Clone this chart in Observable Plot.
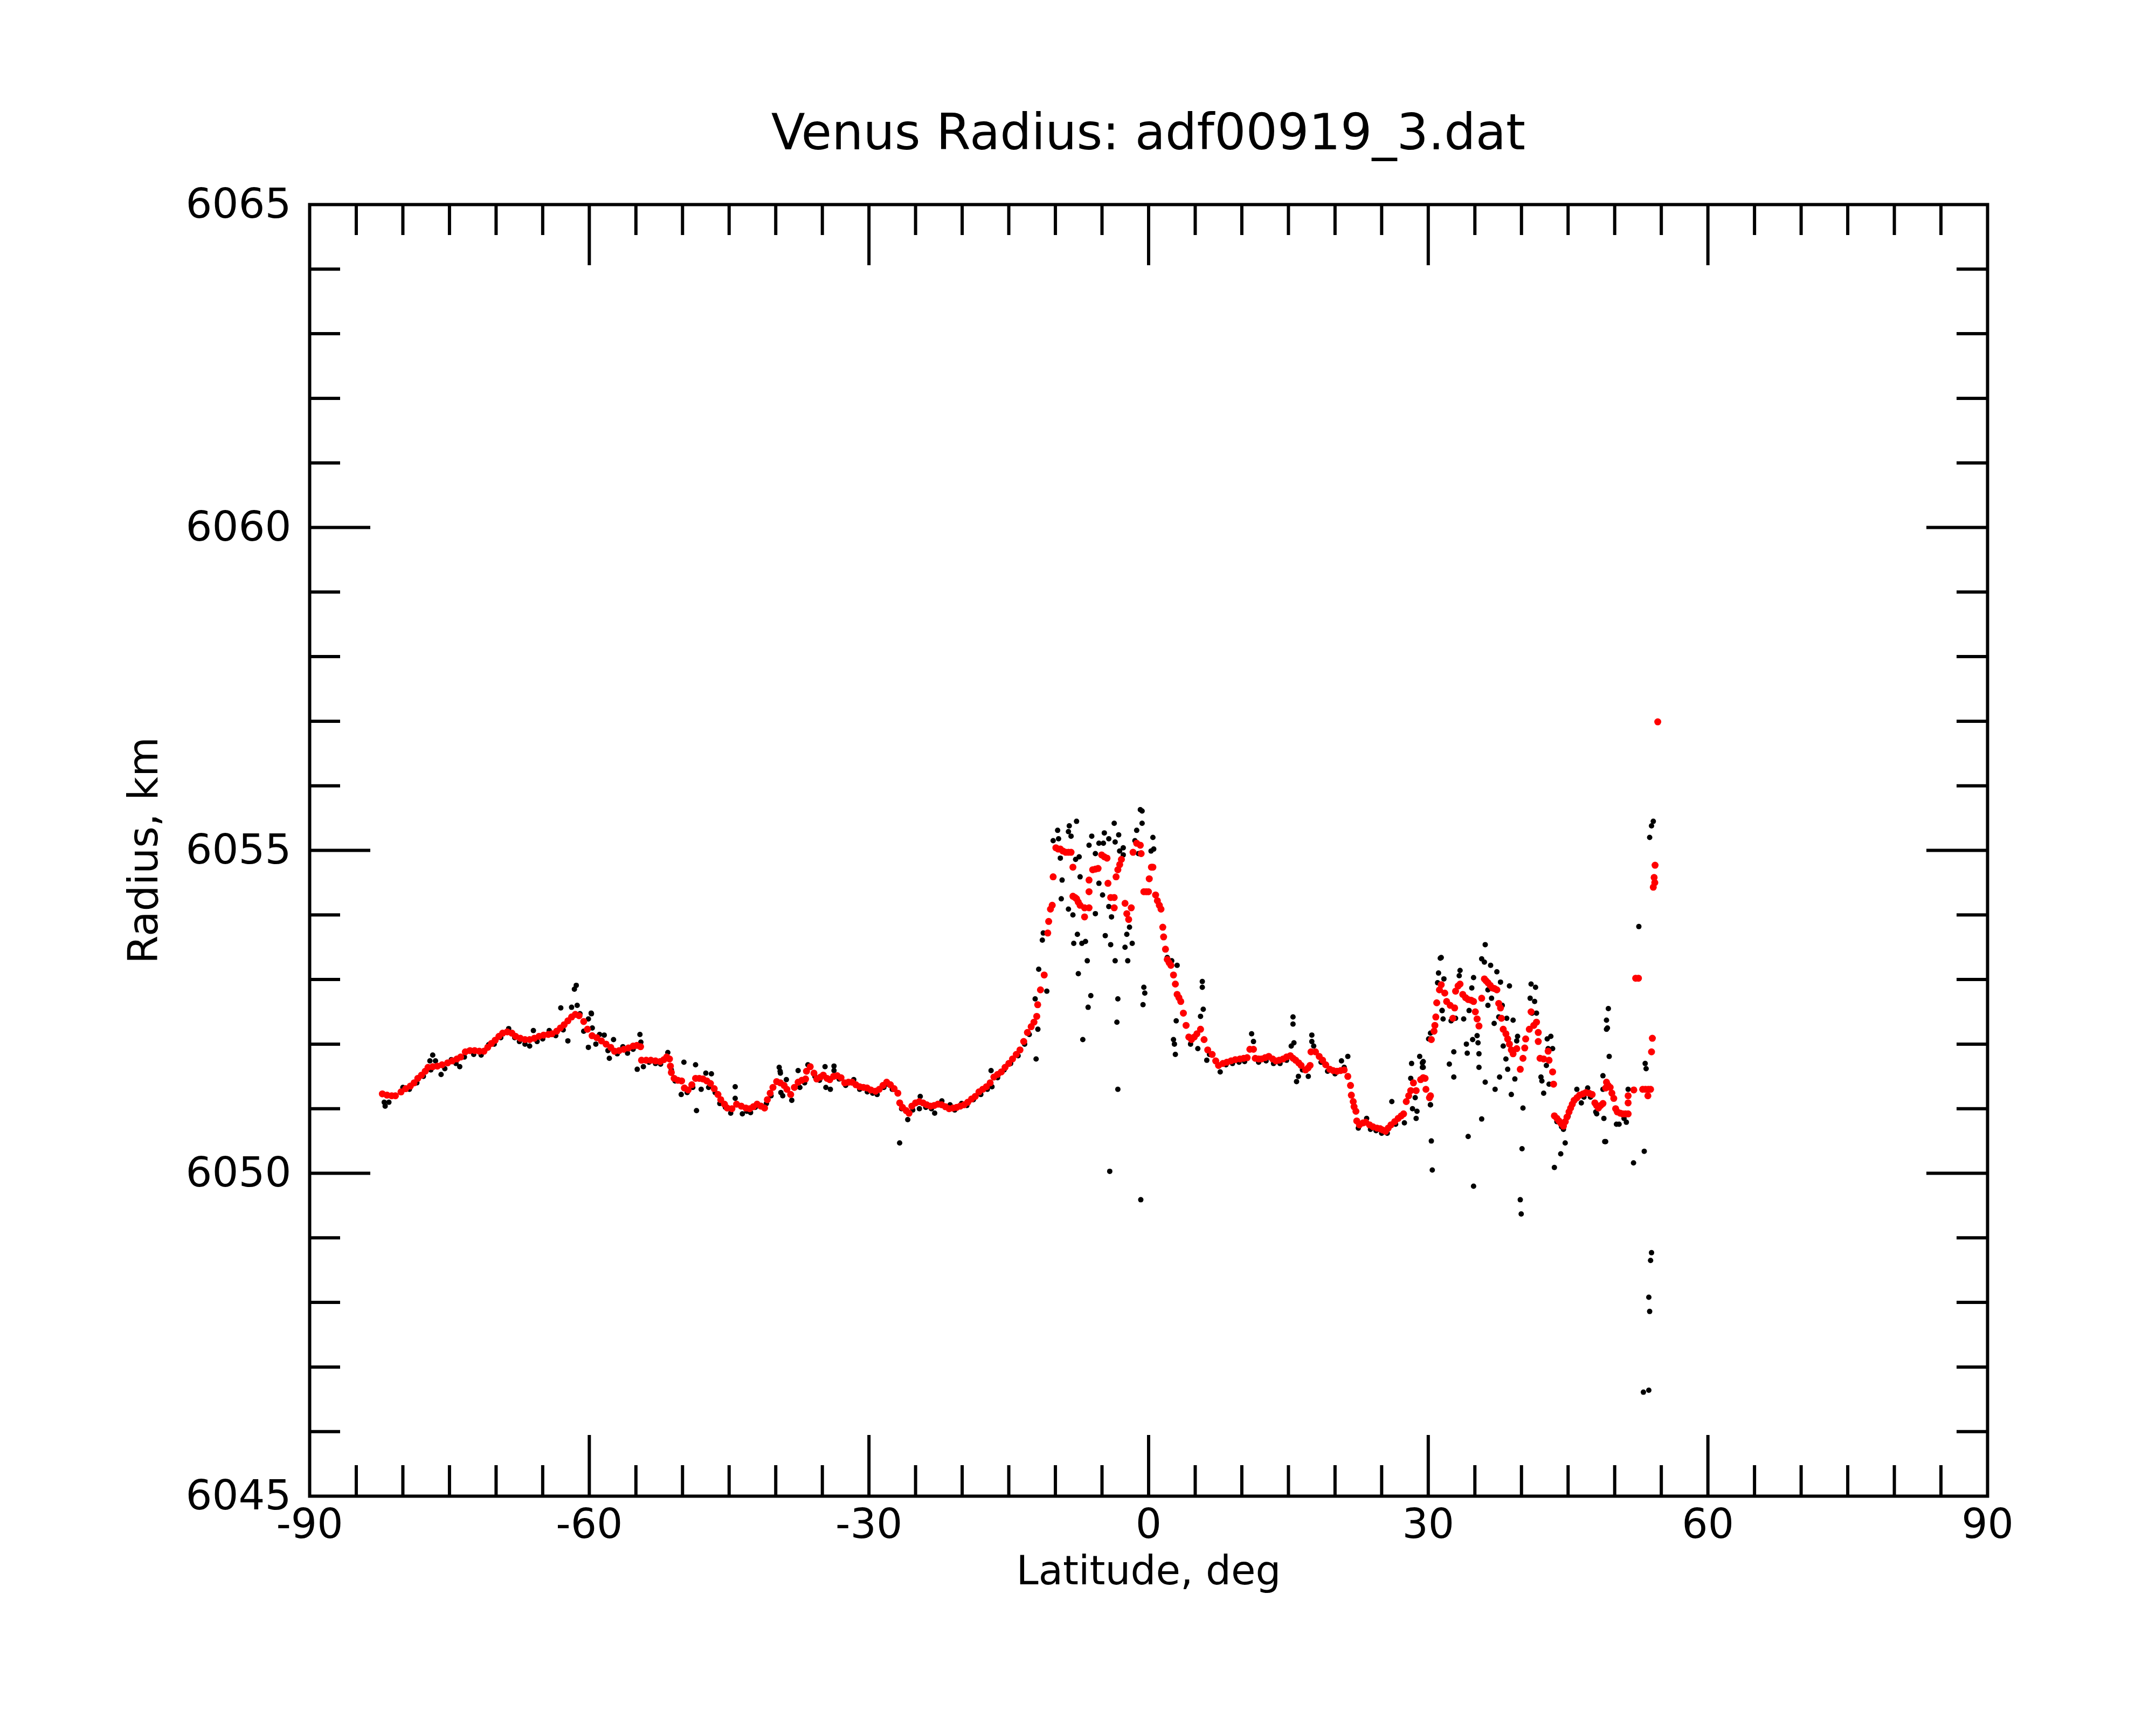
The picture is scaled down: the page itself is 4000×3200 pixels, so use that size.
<!DOCTYPE html>
<html>
<head>
<meta charset="utf-8">
<script src="https://cdn.jsdelivr.net/npm/d3@7"></script>
<script src="https://cdn.jsdelivr.net/npm/@observablehq/plot@0.6"></script>
<style>
  html, body { margin: 0; padding: 0; background: #ffffff; }
  #wrap { width: 4000px; height: 3200px; background: #ffffff; font-family: "DejaVu Sans", sans-serif; }
  #title { box-sizing: border-box; height: 300px; padding-top: 200px; margin-left: 574px; width: 3113px;
           text-align: center; font-size: 92px; line-height: 92px; color: #000; white-space: nowrap; }
</style>
</head>
<body>
<div id="wrap">
  <div id="title">Venus Radius: adf00919_3.dat</div>
  <div id="chart"></div>
</div>
<script>
// ---- axis / tick definitions ----
const xDomain = [-90, 90];
const yDomain = [6045, 6065];
const xTickLabels = [-90, -60, -30, 0, 30, 60, 90];
const xMajorTicks = [-60, -30, 0, 30, 60];
const xMinorTicks = [-85, -80, -75, -70, -65, -55, -50, -45, -40, -35, -25, -20, -15, -10, -5,
                     5, 10, 15, 20, 25, 35, 40, 45, 50, 55, 65, 70, 75, 80, 85];
const yTickLabels = [6045, 6050, 6055, 6060, 6065];
const yMajorTicks = [6050, 6055, 6060];
const yMinorTicks = [6046, 6047, 6048, 6049, 6051, 6052, 6053, 6054, 6056, 6057, 6058, 6059,
                     6061, 6062, 6063, 6064];
const titleText = "Venus Radius: adf00919_3.dat";
const xLabel = "Latitude, deg";
const yLabel = "Radius, km";

// ---- red (smoothed) points: [latitude, radius] ----
const redSouth = [
  [-82.2,6051.23],[-81.7,6051.21],[-81.2,6051.20],[-80.8,6051.20],[-80.2,6051.26],[-79.7,6051.31],
  [-79.2,6051.35],[-78.8,6051.40],[-78.4,6051.47],[-78.0,6051.52],[-77.6,6051.58],[-77.3,6051.64],
  [-76.8,6051.65],[-76.3,6051.66],[-75.8,6051.68],[-75.2,6051.71],[-74.7,6051.74],[-74.2,6051.77],
  [-73.8,6051.80],[-73.3,6051.88],[-72.8,6051.90],[-72.3,6051.90],[-71.8,6051.89],[-71.3,6051.89],
  [-70.9,6051.95],[-70.5,6052.01],[-70.1,6052.06],[-69.7,6052.12],[-69.3,6052.17],[-68.8,6052.19],
  [-68.3,6052.17],[-67.9,6052.12],[-67.4,6052.09],[-66.9,6052.07],[-66.4,6052.07],[-65.9,6052.09],
  [-65.4,6052.12],[-64.9,6052.14],[-64.4,6052.15],[-64.0,6052.16],[-63.5,6052.20],[-63.1,6052.25],
  [-62.7,6052.30],[-62.3,6052.36],[-61.9,6052.42],[-61.5,6052.46],[-61.1,6052.44],[-60.6,6052.35],
  [-60.2,6052.23],[-59.7,6052.13],[-59.2,6052.10],[-58.7,6052.05],[-58.2,6052.00],[-57.7,6051.95],
  [-57.3,6051.89],[-56.8,6051.90],[-56.3,6051.92],[-55.8,6051.94],[-55.3,6051.97],[-54.9,6051.98],
  [-54.5,6051.96]
];
const redMid = [
  [-54.4,6051.75],[-53.9,6051.75],[-53.4,6051.75],[-52.9,6051.74],[-52.4,6051.73],[-52.0,6051.76],
  [-51.7,6051.80],[-51.4,6051.77],[-51.3,6051.66],[-51.2,6051.56],[-50.9,6051.47],[-50.5,6051.44],
  [-50.1,6051.43],[-49.8,6051.32],[-49.4,6051.29],[-49.0,6051.37],[-48.6,6051.47],[-48.2,6051.47],
  [-47.8,6051.46],[-47.4,6051.43],[-47.0,6051.39],[-46.6,6051.31],[-46.2,6051.22],[-45.9,6051.14],
  [-45.5,6051.07],[-45.2,6051.01],[-44.7,6051.00],[-44.2,6051.07],[-43.7,6051.04],[-43.2,6051.01],
  [-42.8,6051.00],[-42.4,6051.03],[-42.0,6051.07],[-41.6,6051.04],[-41.2,6051.01],[-40.9,6051.14],
  [-40.6,6051.24],[-40.3,6051.33],[-39.9,6051.42],[-39.5,6051.40],[-39.1,6051.36],[-38.8,6051.30],
  [-38.4,6051.22],[-38.0,6051.33],[-37.6,6051.41],[-37.2,6051.44],[-36.8,6051.46],[-36.7,6051.58],
  [-36.3,6051.65],[-35.9,6051.55],[-35.6,6051.46],[-35.2,6051.49],[-34.9,6051.52],[-34.5,6051.47],
  [-34.2,6051.45],[-33.8,6051.50],[-33.4,6051.51],[-33.0,6051.48],[-32.6,6051.40],[-32.2,6051.41],
  [-31.8,6051.41],[-31.4,6051.37],[-31.0,6051.34],[-30.6,6051.33],[-30.2,6051.32],[-29.8,6051.29],
  [-29.3,6051.27],[-28.9,6051.30],[-28.5,6051.36],[-28.1,6051.41],[-27.7,6051.37],[-27.3,6051.31],
  [-26.9,6051.24]
];
const redRise = [
  [-26.7,6051.09],[-26.4,6051.02],[-26.0,6050.97],[-25.7,6050.93],[-25.4,6051.04],[-25.0,6051.09],
  [-24.6,6051.11],[-24.2,6051.09],[-23.8,6051.06],[-23.4,6051.04],[-23.0,6051.05],[-22.6,6051.07],
  [-22.2,6051.06],[-21.8,6051.03],[-21.4,6051.00],[-21.0,6051.01],[-20.6,6051.02],[-20.2,6051.04],
  [-19.8,6051.06],[-19.4,6051.10],[-19.0,6051.15],[-18.6,6051.19],[-18.2,6051.26],[-17.8,6051.30],
  [-17.4,6051.34],[-17.0,6051.40],[-16.6,6051.49],[-16.2,6051.53],[-15.8,6051.57],[-15.4,6051.64],
  [-15.0,6051.70],[-14.6,6051.77],[-14.2,6051.84],[-13.8,6051.91],[-13.4,6052.04],[-13.0,6052.18],
  [-12.6,6052.27],[-12.3,6052.34],[-12.0,6052.43],[-11.9,6052.61],[-11.6,6052.84],[-11.2,6053.07]
];
const redPeak = [
  [-10.82,6053.72],[-10.72,6053.90],[-10.53,6054.09],[-10.34,6054.15],[-10.24,6054.59],[-9.95,6055.04],
  [-9.7,6055.02],[-9.47,6055.02],[-9.2,6054.99],[-8.89,6054.97],[-8.6,6054.97],[-8.32,6054.97],
  [-8.12,6054.74],[-8.12,6054.29],[-7.9,6054.27],[-7.73,6054.25],[-7.55,6054.20],[-7.35,6054.15],
  [-6.87,6054.11],[-6.87,6053.97],[-6.39,6054.11],[-6.39,6054.36],[-6.39,6054.54],[-6.0,6054.70],
  [-5.7,6054.71],[-5.42,6054.72],[-5.04,6054.93],[-4.75,6054.90],[-4.46,6054.88],[-4.36,6054.49],
  [-4.07,6054.27],[-3.69,6054.27],[-3.69,6054.11],[-3.49,6054.59],[-3.3,6054.70],[-3.1,6054.78],
  [-2.92,6054.86],[-2.53,6054.18],[-2.34,6054.02],[-2.14,6053.93],[-1.86,6054.11],[-1.67,6054.97],
  [-1.28,6055.11],[-0.89,6055.08],[-0.8,6054.95],[-0.51,6054.36],[-0.25,6054.36],[-0.02,6054.36],
  [0.07,6054.56],[0.3,6054.74],[0.46,6054.74],[0.75,6054.31],[0.94,6054.22],[1.15,6054.15],
  [1.33,6054.09],[1.52,6053.81],[1.61,6053.66],[1.81,6053.47],[2.0,6053.31],[2.2,6053.26],
  [2.39,6053.22],[2.67,6053.07],[2.87,6052.93],[3.06,6052.77],[3.25,6052.72],[3.45,6052.66],
  [3.73,6052.48],[4.02,6052.29],[4.31,6052.11],[4.6,6052.07],[4.9,6052.11],[5.18,6052.16],
  [5.57,6052.23],[5.95,6052.07],[6.34,6051.91],[6.82,6051.84]
];
const redNorth = [
  [7.2,6051.74],[7.5,6051.67],[7.97,6051.70],[8.4,6051.72],[8.84,6051.74],[9.3,6051.76],
  [9.8,6051.77],[10.2,6051.78],[10.57,6051.79],[10.86,6051.92],[11.25,6051.92],[11.44,6051.78],
  [11.8,6051.77],[12.11,6051.77],[12.5,6051.79],[12.89,6051.81],[13.3,6051.77],[13.66,6051.74],
  [14.0,6051.75],[14.43,6051.77],[14.8,6051.80],[15.2,6051.82],[15.5,6051.78],[15.78,6051.75],
  [16.1,6051.71],[16.36,6051.67],[16.84,6051.60],[17.1,6051.63],[17.32,6051.67],[17.42,6051.88],
  [17.9,6051.88],[18.3,6051.81],[18.67,6051.75],[19.0,6051.68],[19.44,6051.61],[19.8,6051.59],
  [20.21,6051.58],[20.6,6051.59],[20.98,6051.60],[21.37,6051.50],[21.66,6051.36],[21.75,6051.21],
  [21.95,6051.11],[22.04,6051.03],[22.24,6050.96],[22.33,6050.81],[22.62,6050.75],[23.0,6050.78],
  [23.3,6050.79],[23.7,6050.75],[24.07,6050.72],[24.5,6050.70],[24.84,6050.69],[25.1,6050.67],
  [25.42,6050.65],[25.7,6050.70],[26.0,6050.75],[26.4,6050.80],[26.77,6050.85],[27.1,6050.89],
  [27.35,6050.92],[27.64,6051.11],[27.9,6051.20],[28.12,6051.28],[28.41,6051.40],[28.7,6051.28],
  [29.18,6051.45],[29.46,6051.48],[29.66,6051.47],[29.75,6051.30],[30.13,6051.17],[30.24,6051.20]
];
const redPeak2 = [
  [30.33,6052.07],[30.62,6052.20],[30.71,6052.29],[30.81,6052.42],[30.91,6052.64],[31.2,6052.84],
  [31.39,6052.92],[31.77,6052.79],[31.97,6052.66],[32.35,6052.60],[32.64,6052.40],[32.83,6052.56],
  [32.93,6052.82],[33.2,6052.90],[33.41,6052.93],[33.7,6052.77],[34.0,6052.72],[34.28,6052.69],
  [34.6,6052.68],[34.86,6052.66],[35.05,6052.50],[35.24,6052.39],[35.44,6052.28],[35.73,6052.71],
  [36.02,6053.01],[36.2,6052.98],[36.4,6052.95],[36.65,6052.91],[36.88,6052.87],[37.1,6052.86],
  [37.36,6052.84],[37.56,6052.63],[37.75,6052.56],[37.85,6052.40],[38.04,6052.23],[38.33,6052.16],
  [38.52,6052.08],[38.71,6052.00],[38.91,6051.91],[39.1,6051.85],[39.49,6051.93],[39.87,6051.61],
  [40.16,6051.78],[40.35,6051.94],[40.45,6052.08],[40.84,6052.23],[41.03,6052.50],[41.32,6052.29],
  [41.61,6052.34],[41.8,6052.18],[41.8,6052.04],[41.99,6051.78],[42.38,6051.77],[42.86,6051.89],
  [42.96,6051.75],[43.34,6051.57],[43.44,6051.38]
];
const redEnd = [
  [43.53,6050.89],[43.8,6050.85],[44.02,6050.81],[44.25,6050.77],[44.5,6050.73],[44.7,6050.80],
  [44.88,6050.87],[45.1,6050.95],[45.27,6051.01],[45.45,6051.07],[45.65,6051.13],[45.95,6051.17],
  [46.23,6051.21],[46.6,6051.23],[46.91,6051.25],[47.25,6051.24],[47.58,6051.22],[47.87,6051.09],
  [48.05,6051.05],[48.26,6051.01],[48.5,6051.05],[48.74,6051.08],[49.03,6051.32],[49.12,6051.41],
  [49.3,6051.36],[49.51,6051.33],[49.7,6051.24],[49.9,6051.16],[50.1,6051.00],[50.28,6050.95],
  [50.6,6050.93],[50.86,6050.92],[51.15,6050.92],[51.44,6050.92],[51.44,6051.09],[51.44,6051.20],
  [52.05,6051.29],[52.25,6053.02],[52.55,6053.02],[53.0,6051.30],[53.3,6051.30],[53.56,6051.20],
  [53.6,6051.30],[53.85,6051.30],[53.95,6051.88],[54.04,6052.09],[54.14,6054.43],[54.23,6054.58],
  [54.3,6054.50],[54.33,6054.77],[54.62,6056.99]
];

// ---- black (raw) points: [latitude, radius] ----
const blackSouth = [
  [-82.0,6051.10],[-81.5,6051.10],[-81.9,6051.04],[-80.0,6051.33],[-79.3,6051.30],[-78.5,6051.40],
  [-77.8,6051.50],[-77.0,6051.60],[-76.8,6051.83],[-77.1,6051.74],[-76.5,6051.74],[-75.9,6051.53],
  [-75.5,6051.62],[-74.8,6051.76],[-74.3,6051.70],[-73.9,6051.65],[-73.4,6051.80],[-72.9,6051.90],
  [-72.4,6051.84],[-71.6,6051.83],[-70.8,6051.99],[-70.2,6052.00],[-69.5,6052.10],[-68.65,6052.24],
  [-68.0,6052.10],[-67.5,6052.04],[-66.9,6052.00],[-66.4,6051.97],[-66.0,6052.21],[-65.6,6052.04],
  [-65.0,6052.08],[-64.3,6052.21],[-63.6,6052.13],[-63.06,6052.56],[-62.8,6052.22],[-62.3,6052.05],
  [-61.9,6052.57],[-61.3,6052.60],[-61.6,6052.85],[-61.4,6052.91],[-61.0,6052.47],[-60.6,6052.20],
  [-60.1,6052.39],[-59.8,6052.48],[-60.1,6051.95],[-59.77,6052.47],[-59.68,6052.25],[-59.3,6052.00],
  [-58.9,6052.15],[-58.4,6052.14],[-58.0,6051.90],[-57.85,6051.78],[-57.4,6052.07],[-57.0,6051.85],
  [-56.4,6051.96],[-55.9,6051.86],[-55.3,6051.92],[-54.57,6052.15],[-54.47,6052.03],[-54.86,6051.61]
];
const blackMid = [
  [-54.2,6051.65],[-53.6,6051.72],[-52.9,6051.70],[-52.35,6051.69],[-51.58,6051.87],[-51.2,6051.60],
  [-50.8,6051.43],[-50.14,6051.22],[-49.85,6051.72],[-49.5,6051.25],[-48.9,6051.33],[-48.6,6051.68],
  [-48.5,6050.97],[-48.0,6051.30],[-47.5,6051.55],[-46.9,6051.54],[-47.2,6051.33],[-46.5,6051.25],
  [-46.0,6051.08],[-45.4,6051.02],[-44.83,6050.93],[-44.35,6051.34],[-44.35,6051.16],[-43.58,6050.92],
  [-43.1,6050.96],[-42.7,6050.94],[-42.2,6051.02],[-41.56,6051.05],[-41.0,6051.08],[-40.5,6051.20],
  [-39.63,6051.64],[-39.5,6051.55],[-39.45,6051.25],[-39.53,6051.58],[-38.86,6051.45],[-39.25,6051.20],
  [-38.28,6051.13],[-37.6,6051.59],[-37.41,6051.33],[-36.9,6051.40],[-36.55,6051.68],[-35.8,6051.50],
  [-35.3,6051.44],[-34.71,6051.65],[-34.62,6051.33],[-34.14,6051.30],[-33.75,6051.66],[-33.75,6051.59],
  [-33.2,6051.46],[-32.5,6051.36],[-31.63,6051.45],[-31.0,6051.30],[-30.18,6051.26],[-29.6,6051.24],
  [-29.12,6051.22],[-28.4,6051.33],[-28.0,6051.38],[-27.5,6051.30]
];
const blackRise = [
  [-26.71,6050.47],[-26.5,6051.00],[-25.84,6050.83],[-25.3,6050.98],[-24.5,6051.19],[-24.59,6051.00],
  [-23.9,6051.02],[-23.3,6051.00],[-22.95,6050.93],[-22.18,6051.12],[-21.3,6051.06],[-20.8,6050.98],
  [-20.06,6051.08],[-19.5,6051.05],[-18.8,6051.14],[-18.0,6051.22],[-17.3,6051.30],[-16.9,6051.59],
  [-16.8,6051.34],[-16.2,6051.48],[-15.5,6051.60],[-14.8,6051.70],[-14.0,6051.82],[-13.3,6052.00],
  [-12.8,6052.15],[-12.07,6051.77],[-11.88,6052.23],[-12.17,6052.70],[-11.79,6053.16],[-10.92,6052.82],
  [-11.4,6053.61],[-11.3,6053.72]
];
const blackPeak = [
  [-9.76,6055.31],[-10.24,6055.15],[-9.66,6055.18],[-9.47,6054.88],[-9.28,6054.54],[-9.37,6054.25],
  [-8.6,6055.29],[-8.51,6055.38],[-8.32,6055.22],[-7.73,6055.45],[-8.6,6054.09],[-8.12,6054.00],
  [-7.83,6054.86],[-7.45,6054.90],[-7.35,6054.59],[-7.64,6053.70],[-8.03,6053.56],[-7.16,6053.56],
  [-6.77,6053.59],[-7.54,6053.09],[-6.58,6053.29],[-6.2,6052.75],[-6.49,6052.57],[-7.06,6052.07],
  [-6.39,6055.08],[-6.1,6055.22],[-5.71,6054.95],[-5.33,6055.11],[-4.75,6055.27],[-4.85,6055.11],
  [-4.27,6055.18],[-3.69,6055.42],[-3.59,6055.13],[-3.11,6054.99],[-3.21,6055.24],[-2.72,6055.04],
  [-5.33,6054.49],[-4.94,6054.31],[-5.71,6054.02],[-4.65,6053.68],[-4.07,6053.54],[-3.98,6053.97],
  [-4.27,6054.13],[-3.59,6053.29],[-3.3,6052.70],[-3.4,6052.34],[-4.17,6050.03],[-3.3,6051.30],
  [-2.34,6053.70],[-2.53,6053.50],[-1.76,6053.56],[-2.24,6053.29],[-2.05,6053.81],[-2.72,6054.93],
  [-1.47,6055.15],[-1.28,6055.31],[-0.89,6055.63],[-0.7,6055.61],[-0.7,6055.42],[-1.09,6054.95],
  [-0.51,6052.88],[-0.41,6052.79],[-0.6,6052.61],[-0.84,6049.59],[0.46,6055.20],[0.55,6055.02],
  [0.26,6054.99],[2.48,6053.29],[3.06,6053.22],[2.0,6053.34],[2.96,6052.36],[2.67,6052.07],
  [2.77,6052.00],[2.87,6051.84],[4.5,6052.00],[5.28,6051.93],[5.57,6052.43],[5.76,6052.97],
  [5.76,6052.88],[5.86,6052.54],[6.24,6051.75],[6.53,6051.84]
];
const blackNorth = [
  [7.68,6051.57],[8.3,6051.68],[9.0,6051.70],[9.7,6051.72],[10.3,6051.73],[11.05,6052.16],
  [11.25,6052.04],[11.8,6051.72],[12.6,6051.74],[13.4,6051.70],[14.1,6051.70],[14.8,6051.75],
  [15.49,6052.42],[15.49,6052.31],[15.59,6052.02],[15.3,6051.97],[16.07,6051.50],[15.87,6051.42],
  [16.5,6051.60],[17.13,6051.50],[17.51,6052.14],[17.51,6052.04],[17.71,6051.97],[18.5,6051.72],
  [19.2,6051.58],[20.0,6051.54],[20.69,6051.74],[21.37,6051.81],[20.98,6051.64],[22.5,6050.70],
  [23.39,6050.85],[23.8,6050.68],[24.4,6050.66],[25.0,6050.62],[25.6,6050.62],[26.09,6051.11],
  [26.5,6050.76],[27.44,6050.78],[28.12,6051.47],[28.21,6051.70],[29.08,6051.81],[29.37,6051.71],
  [29.37,6051.64],[28.31,6051.00],[28.79,6050.96],[28.7,6050.85],[28.6,6051.17],[30.24,6051.06],
  [30.33,6050.50],[30.43,6050.05],[30.24,6052.17],[31.39,6053.34],[31.1,6053.10],[31.49,6052.52],
  [31.59,6052.39]
];
const blackPeak2 = [
  [29.46,6051.73],[29.46,6051.64],[30.23,6051.06],[30.04,6052.08],[31.29,6053.33],[31.68,6053.01],
  [31.0,6052.95],[31.48,6052.52],[32.26,6051.69],[32.74,6051.88],[32.74,6051.49],[32.45,6052.36],
  [32.93,6052.40],[33.41,6053.14],[33.32,6053.06],[33.8,6052.39],[34.09,6052.00],[34.18,6051.86],
  [34.28,6050.57],[34.38,6052.52],[34.76,6052.07],[34.67,6052.87],[34.86,6053.03],[35.24,6052.13],
  [35.34,6052.02],[35.44,6051.85],[35.44,6051.64],[34.86,6049.80],[35.73,6050.84],[36.11,6051.41],
  [36.11,6053.54],[35.73,6053.32],[36.02,6053.27],[36.69,6053.22],[37.36,6053.12],[37.75,6052.96],
  [36.4,6052.84],[36.79,6052.71],[36.4,6052.60],[37.07,6052.32],[37.56,6052.42],[37.94,6052.60],
  [37.17,6051.30],[37.65,6051.49],[38.42,6052.40],[38.71,6052.90],[39.1,6052.37],[38.04,6051.97],
  [38.33,6051.77],[38.52,6051.61],[38.91,6051.22],[39.29,6051.46],[39.58,6052.12],[39.49,6052.05],
  [40.16,6051.01],[40.06,6050.38],[39.87,6049.59],[39.97,6049.37],[41.03,6052.93],[41.51,6052.88],
  [40.93,6052.71],[41.41,6052.66],[41.13,6052.48],[41.61,6052.48],[42.09,6051.49],[42.19,6051.43],
  [42.38,6051.24],[42.76,6052.08],[43.15,6052.12],[42.86,6051.93],[43.34,6051.93],[42.67,6051.67],
  [42.96,6051.38]
];
const blackEnd = [
  [43.53,6050.09],[44.21,6050.30],[44.69,6050.47],[44.5,6050.68],[43.8,6050.80],[44.3,6050.72],
  [45.0,6050.88],[45.94,6051.30],[46.42,6051.09],[47.1,6051.32],[46.7,6051.18],[47.4,6051.18],
  [48.07,6050.92],[48.84,6050.85],[48.93,6050.49],[48.74,6051.51],[49.41,6051.81],[49.12,6052.23],
  [49.12,6052.37],[49.32,6052.55],[49.22,6052.25],[48.74,6051.30],[49.03,6050.49],[47.97,6050.95],
  [50.19,6050.76],[50.47,6050.76],[51.25,6050.79],[51.0,6050.85],[51.44,6051.30],[52.02,6050.16],
  [52.59,6053.82],[53.17,6050.34],[53.27,6051.70],[53.37,6051.62],[53.75,6055.20],[53.95,6055.38],
  [54.14,6055.45],[53.95,6048.77],[53.85,6048.65],[53.66,6048.08],[53.75,6047.86],[53.08,6046.61],
  [53.66,6046.64]
];

const toRows = arr => arr.map(([lat, r]) => ({lat, r}));
const redPoints = toRows([...redSouth, ...redMid, ...redRise, ...redPeak, ...redNorth, ...redPeak2, ...redEnd]);
const blackPoints = toRows([...blackSouth, ...blackMid, ...blackRise, ...blackPeak, ...blackNorth, ...blackPeak2, ...blackEnd]);

// ---- layout ----
const W = 4000, H = 2900;
const mL = 574, mR = 313, mT = 79, mB = 425;
const innerW = W - mL - mR, innerH = H - mT - mB;
const majorLen = 113, minorLen = 57, lw = 6;

const chart = Plot.plot({
  width: W, height: H,
  marginLeft: mL, marginRight: mR, marginTop: mT, marginBottom: mB,
  style: {fontFamily: "DejaVu Sans", background: "#ffffff", color: "#000000", overflow: "visible"},
  x: {domain: xDomain},
  y: {domain: yDomain},
  marks: [
    Plot.dot(blackPoints, {x: "lat", y: "r", r: 5, fill: "black", stroke: null}),
    Plot.dot(redPoints, {x: "lat", y: "r", r: 6.5, fill: "red", stroke: null}),
    // bottom ticks
    Plot.tickX(xMajorTicks, {x: d => d, insetTop: innerH - majorLen, stroke: "black", strokeWidth: lw}),
    Plot.tickX(xMinorTicks, {x: d => d, insetTop: innerH - minorLen, stroke: "black", strokeWidth: lw}),
    // top ticks
    Plot.tickX(xMajorTicks, {x: d => d, insetBottom: innerH - majorLen, stroke: "black", strokeWidth: lw}),
    Plot.tickX(xMinorTicks, {x: d => d, insetBottom: innerH - minorLen, stroke: "black", strokeWidth: lw}),
    // left ticks
    Plot.tickY(yMajorTicks, {y: d => d, insetRight: innerW - majorLen, stroke: "black", strokeWidth: lw}),
    Plot.tickY(yMinorTicks, {y: d => d, insetRight: innerW - minorLen, stroke: "black", strokeWidth: lw}),
    // right ticks
    Plot.tickY(yMajorTicks, {y: d => d, insetLeft: innerW - majorLen, stroke: "black", strokeWidth: lw}),
    Plot.tickY(yMinorTicks, {y: d => d, insetLeft: innerW - minorLen, stroke: "black", strokeWidth: lw}),
    Plot.frame({stroke: "black", strokeWidth: lw}),
    Plot.axisX(xTickLabels, {anchor: "bottom", tickSize: 0, tickPadding: 24, fontSize: 76,
                             tickFormat: d => String(d), label: null}),
    Plot.axisY(yTickLabels, {anchor: "left", tickSize: 0, tickPadding: 34, fontSize: 77,
                             tickFormat: d => String(d), label: null}),
    Plot.text([xLabel], {text: d => d, frameAnchor: "bottom", dy: 140, fontSize: 74,
                         lineAnchor: "middle", textAnchor: "middle", fill: "black"}),
    Plot.text([yLabel], {text: d => d, frameAnchor: "left", dx: -307, rotate: -90, fontSize: 76,
                         lineAnchor: "middle", textAnchor: "middle", fill: "black"})
  ]
});
document.getElementById("chart").appendChild(chart);
document.getElementById("title").textContent = titleText;
</script>
</body>
</html>
